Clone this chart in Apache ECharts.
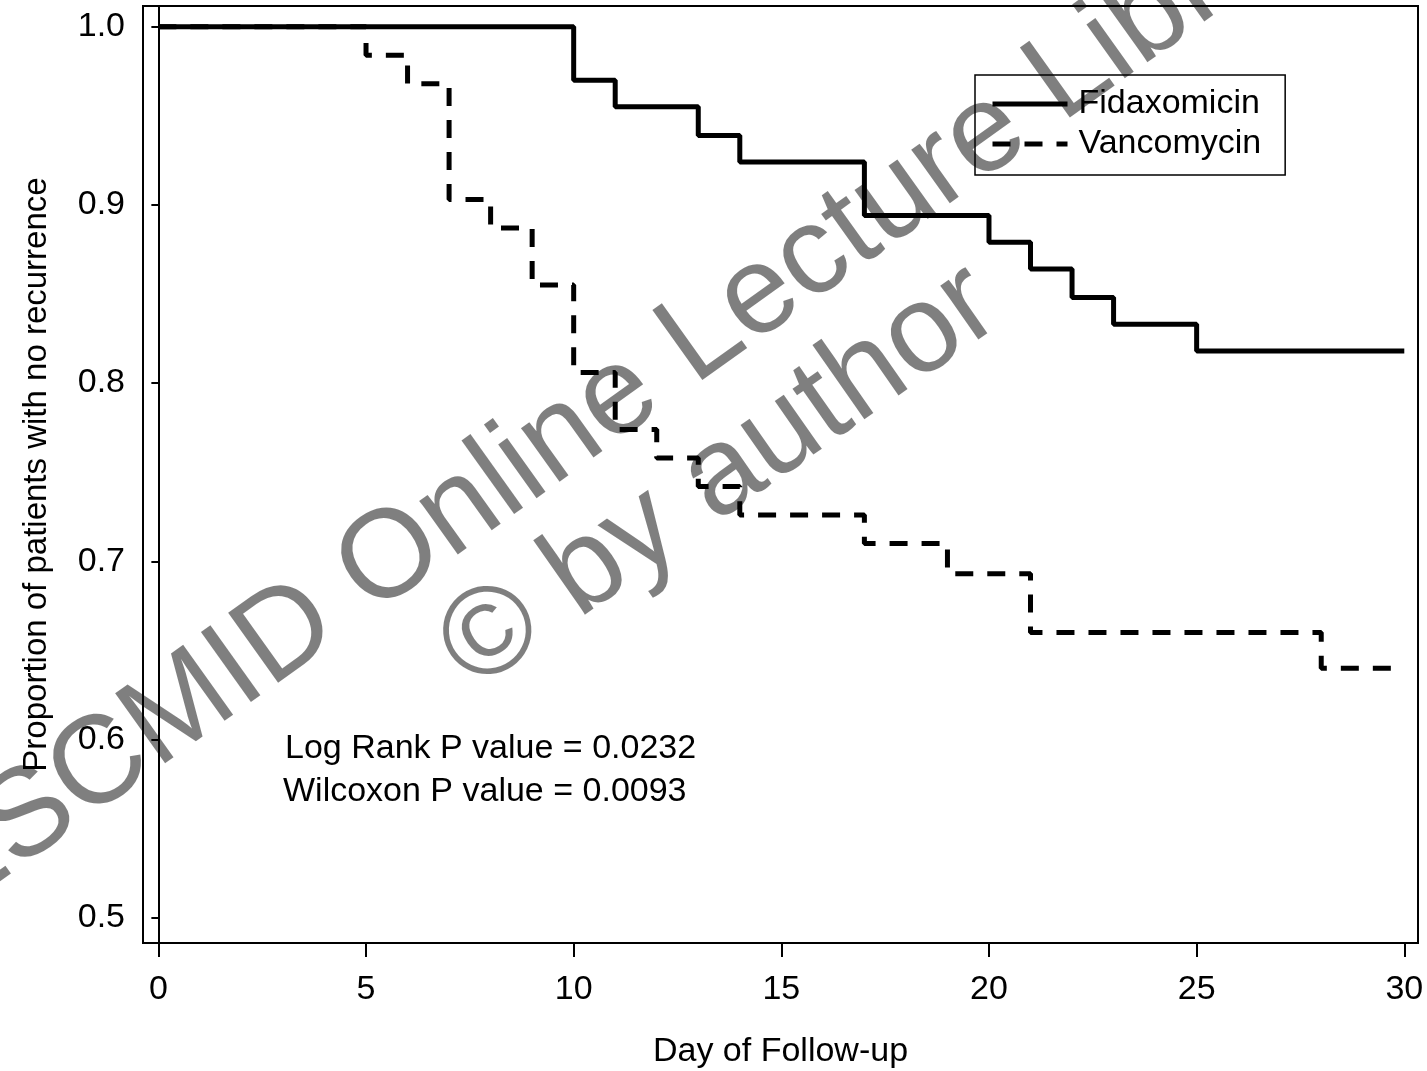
<!DOCTYPE html>
<html><head><meta charset="utf-8">
<script src="https://cdn.jsdelivr.net/npm/echarts@6/dist/echarts.min.js"></script>
<style>html,body{margin:0;padding:0;background:#fff}#c{width:1427px;height:1071px}</style>
</head><body><div id="c"></div>
<script>
// ---- data ----
const xTicks = [0, 5, 10, 15, 20, 25, 30];
const yTicks = [0.5, 0.6, 0.7, 0.8, 0.9, 1.0];
const seriesNames = ['Fidaxomicin', 'Vancomycin'];
const fidaxDays = [0, 10, 11, 13, 14, 17, 20, 21, 22, 23, 25, 30];
const fidaxSurv = [1.0, 0.970, 0.955, 0.939, 0.924, 0.894, 0.879, 0.864, 0.848, 0.833, 0.818, 0.818];
const vancoDays = [0, 5, 6, 7, 8, 9, 10, 11, 12, 13, 14, 17, 19, 21, 28, 30];
const vancoSurv = [1.0, 0.984, 0.968, 0.903, 0.887, 0.855, 0.806, 0.774, 0.758, 0.742, 0.726, 0.710, 0.693, 0.660, 0.640, 0.640];
const xTitle = 'Day of Follow-up';
const yTitle = 'Proportion of patients with no recurrence';
const pValueLines = ['Log Rank P value = 0.0232', 'Wilcoxon P value = 0.0093'];
const watermarkLines = ['ESCMID Online Lecture Library', '\u00A9 by author'];

const FONT = '"Liberation Sans", Arial, sans-serif';
const FS = 34;
const pairs = (xs, ys) => xs.map((x, i) => [x, ys[i]]);

const chart = echarts.init(document.getElementById('c'), null, {renderer: 'canvas'});
chart.setOption({
  backgroundColor: '#fff',
  animation: false,
  textStyle: {fontFamily: FONT},
  grid: {left: 143, right: 9, top: 6, bottom: 128, show: true, borderColor: '#000', borderWidth: 2,
         backgroundColor: 'transparent', containLabel: false, outerBoundsMode: 'none'},
  xAxis: {
    type: 'value', min: -0.37, max: 30.33,
    name: xTitle, nameLocation: 'middle', nameGap: 92,
    nameTextStyle: {fontSize: FS, color: '#000', fontFamily: FONT},
    axisLine: {show: true, lineStyle: {color: '#000', width: 2}},
    axisTick: {show: true, length: 14, lineStyle: {color: '#000', width: 2}, customValues: xTicks},
    axisLabel: {fontSize: FS, color: '#000', margin: 30, fontFamily: FONT, customValues: xTicks},
    splitLine: {show: false}
  },
  yAxis: {
    type: 'value', min: 0.4858, max: 1.0116,
    name: yTitle, nameLocation: 'middle', nameGap: 90, nameRotate: 90,
    nameTextStyle: {fontSize: 33, color: '#000', fontFamily: FONT},
    axisLine: {show: true, lineStyle: {color: '#000', width: 2}},
    axisTick: {show: true, length: 7, lineStyle: {color: '#000', width: 2}, customValues: yTicks},
    axisLabel: {fontSize: FS, color: '#000', margin: 18, fontFamily: FONT, customValues: yTicks,
      formatter: v => v.toFixed(1)},
    splitLine: {show: false}
  },
  legend: {
    show: true, orient: 'vertical', left: 975, top: 75,
    data: seriesNames,
    itemWidth: 75, itemHeight: 16, itemGap: 0,
    padding: [9, 24, 11, 15],
    borderColor: '#000', borderWidth: 1.5,
    lineStyle: {width: 5},
    textStyle: {fontSize: FS, color: '#000', fontFamily: FONT, lineHeight: 34, padding: [6, 0, 0, 6]},
    itemStyle: {opacity: 0}
  },
  series: [
    {name: seriesNames[0], type: 'line', step: 'end', data: pairs(fidaxDays, fidaxSurv),
     symbol: 'none', lineStyle: {color: '#000', width: 5, type: 'solid'}, itemStyle: {color: '#000'}, z: 3},
    {name: seriesNames[1], type: 'line', step: 'end', data: pairs(vancoDays, vancoSurv),
     symbol: 'none', lineStyle: {color: '#000', width: 5, type: [18, 14]}, itemStyle: {color: '#000'}, z: 2}
  ],
  graphic: [
    {type: 'text', left: 285, top: 732, z: 5,
     style: {text: pValueLines[0], fontSize: FS, fill: '#000', fontFamily: FONT}},
    {type: 'text', left: 283, top: 775, z: 5,
     style: {text: pValueLines[1], fontSize: FS, fill: '#000', fontFamily: FONT}},
    {type: 'text', x: 640, y: 382, rotation: 0.62, z: 50,
     style: {text: watermarkLines[0], fontSize: 125, fill: 'rgba(0,0,0,0.5)', fontFamily: FONT, align: 'center', verticalAlign: 'middle'}},
    {type: 'text', x: 720, y: 478, rotation: 0.61, z: 50,
     style: {text: watermarkLines[1], fontSize: 125, fill: 'rgba(0,0,0,0.5)', fontFamily: FONT, align: 'center', verticalAlign: 'middle'}}
  ]
});
</script>
</body></html>
